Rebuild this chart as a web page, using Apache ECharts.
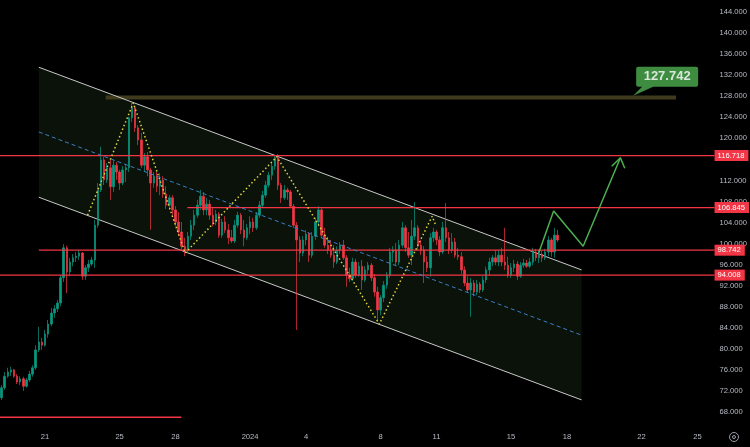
<!DOCTYPE html>
<html><head><meta charset="utf-8">
<script src="https://cdn.jsdelivr.net/npm/echarts/dist/echarts.min.js"></script>
<style>html,body{margin:0;padding:0;background:#000;}#c{width:750px;height:447px;}</style>
</head><body><div id="c"></div>
<script>
// ---- categories (4h bars) and tick labels ----
const startTime = '2023-12-18T16:00:00Z';
const stepHours = 4;
const categoryCount = 230;
const tickDates = ['2023-12-21','2023-12-25','2023-12-28','2024-01-01','2024-01-04','2024-01-08','2024-01-11','2024-01-15','2024-01-18','2024-01-22','2024-01-25'];
const tickLabels = ['21','25','28','2024','4','8','11','15','18','22','25'];

// ---- OHLC ----
const opens = [70.7,72.6,74.8,75.6,76.0,74.8,73.7,74.3,72.9,74.1,75.2,76.4,79.8,81.3,80.7,82.8,84.7,86.8,87.6,88.7,
93.5,99.2,94.6,96.5,97.3,97.6,98.2,93.8,95.4,96.1,96.9,103.5,110.2,115.9,112.1,114.4,110.8,114.9,113.6,111.5,
114.0,114.4,123.9,125.8,122.0,119.7,114.9,116.5,114.0,111.5,112.8,110.9,112.1,109.4,107.3,108.7,106.4,104.1,102.2,99.5,
98.8,101.4,103.5,105.4,107.3,109.0,106.4,107.5,105.4,104.1,105.6,101.6,104.1,102.6,101.1,100.5,103.5,105.4,102.6,101.1,
103.0,104.1,103.0,105.4,107.3,109.2,111.1,113.0,114.7,116.3,111.1,108.7,110.2,109.8,107.1,103.5,100.7,98.2,100.7,101.8,
97.8,101.4,104.1,106.4,101.6,99.7,98.8,97.8,96.5,98.8,99.7,97.3,94.0,93.3,96.5,94.0,95.7,93.1,95.0,95.9,
93.5,90.8,87.4,89.7,92.1,94.0,98.4,98.8,96.5,99.7,103.0,99.2,97.8,101.4,103.0,99.7,98.8,96.5,95.4,101.1,
102.2,100.7,98.4,103.0,101.1,98.8,100.3,97.8,97.5,95.0,92.5,91.2,92.5,90.8,92.3,91.2,93.1,95.0,96.5,97.3,
96.5,97.8,96.5,95.9,94.0,95.4,96.1,93.8,95.9,96.3,95.7,96.5,98.4,97.3,98.0,97.3,98.4,100.7,98.4,101.6];
const closes = [72.6,74.8,75.6,76.0,74.8,73.7,74.3,72.9,74.1,75.2,76.4,79.8,81.3,80.7,82.8,84.7,86.8,87.6,88.7,93.5,
99.2,94.6,96.5,97.3,97.6,98.2,93.8,95.4,96.1,96.9,103.5,110.2,115.9,112.1,114.4,110.8,114.9,113.6,111.5,114.0,
114.4,123.9,125.8,122.0,119.7,114.9,116.5,114.0,111.5,112.8,110.9,112.1,109.4,107.3,108.7,106.4,104.1,102.2,99.5,98.8,
101.4,103.5,105.4,107.3,109.0,106.4,107.5,105.4,104.1,105.6,101.6,104.1,102.6,101.1,100.5,103.5,105.4,102.6,101.1,103.0,
104.1,103.0,105.4,107.3,109.2,111.1,113.0,114.7,116.3,111.1,108.7,110.2,109.8,107.1,103.5,100.7,98.2,100.7,101.8,97.8,
101.4,104.1,106.4,101.6,99.7,98.8,97.8,96.5,98.8,99.7,97.3,94.0,93.3,96.5,94.0,95.7,93.1,95.0,95.9,93.5,
90.8,87.4,89.7,92.1,94.0,98.4,98.8,96.5,99.7,103.0,99.2,97.8,101.4,103.0,99.7,98.8,96.5,95.4,101.1,102.2,
100.7,98.4,103.0,101.1,98.8,100.3,97.8,97.5,95.0,92.5,91.2,92.5,90.8,92.3,91.2,93.1,95.0,96.5,97.3,96.5,
97.8,96.5,95.9,94.0,95.4,96.1,93.8,95.9,96.3,95.7,96.5,98.4,97.3,98.0,97.3,98.4,100.7,98.4,101.6,100.7];
const lows = [70.3,72.2,74.5,74.8,74.5,73.3,73.1,72.0,72.6,73.7,74.7,76.0,79.4,79.8,80.4,82.1,84.3,85.9,87.0,88.1,
92.7,90.6,93.8,95.7,96.5,96.9,93.1,93.1,94.6,95.7,95.4,103.0,109.8,111.1,111.5,108.3,109.8,112.1,110.2,111.1,
111.7,113.6,123.1,121.2,118.7,114.4,113.6,112.8,102.6,110.6,109.8,109.2,108.7,106.6,106.4,105.4,103.3,101.4,98.8,97.6,
98.2,100.7,102.6,104.9,106.4,105.4,105.4,104.5,103.3,103.5,101.1,101.1,102.0,99.9,100.1,100.1,103.0,101.8,99.5,100.7,
101.8,102.2,102.6,104.9,106.8,108.7,110.6,112.1,114.0,110.2,107.7,108.3,108.3,106.8,103.0,83.6,96.5,97.6,99.7,96.5,
97.3,100.7,103.3,101.1,99.2,98.0,97.3,95.4,96.1,98.0,96.9,91.8,92.7,92.9,93.5,93.7,91.2,92.7,94.2,92.9,
89.9,85.1,86.4,88.9,91.4,93.5,96.5,95.9,95.9,99.2,98.4,97.3,95.9,100.7,98.8,97.8,92.5,94.6,93.7,100.3,
99.7,97.6,98.0,100.3,98.0,98.2,97.3,96.9,94.2,91.9,90.6,86.1,90.0,90.2,90.6,90.8,92.5,94.0,95.7,95.9,
95.7,95.7,95.0,93.5,93.5,94.6,93.1,93.5,95.4,95.4,95.4,95.9,96.7,96.3,96.5,96.9,97.6,97.5,97.3,100.3];
const highs = [73.1,75.6,76.4,76.6,76.2,75.2,74.8,74.7,74.5,75.8,76.9,80.7,84.2,82.1,83.6,85.5,87.8,88.3,89.3,94.0,
99.9,99.6,97.3,98.0,98.4,98.8,98.4,95.9,96.9,97.5,104.5,111.5,118.4,116.5,115.3,115.9,115.9,115.5,114.0,114.7,
114.9,124.1,126.7,126.1,122.5,121.0,117.2,117.4,114.4,113.6,113.6,113.4,112.8,110.9,109.2,109.2,107.1,106.0,104.1,101.1,
102.2,104.5,106.4,108.3,110.2,109.8,108.7,108.3,106.8,106.4,106.0,104.7,105.2,103.7,102.6,104.5,106.0,105.8,104.5,103.7,
105.2,104.9,106.0,108.1,110.0,111.9,113.6,115.5,116.8,117.0,111.5,111.1,110.6,110.2,107.5,104.1,101.4,101.4,102.6,102.2,
102.2,104.9,107.1,106.8,103.0,101.3,100.7,99.7,99.5,100.3,100.7,97.8,95.4,97.3,97.1,96.5,96.9,95.7,96.5,96.3,
94.2,91.8,90.2,92.9,94.6,99.2,99.5,100.1,100.7,104.1,103.5,102.2,104.5,107.9,103.5,100.7,99.5,97.6,102.0,103.0,
102.6,101.4,104.1,107.7,102.2,102.0,101.1,99.2,98.4,95.7,93.8,93.5,93.1,93.1,92.7,93.8,95.6,97.3,97.8,98.8,
98.8,99.2,103.0,97.5,96.3,96.9,96.7,96.5,97.1,96.9,97.3,99.2,99.0,98.8,98.6,99.0,101.4,101.1,103.0,102.6];

// ---- price levels (x in bar index units) ----
const levelValues = [116.718, 106.845, 98.742, 94.008, 67.0];
const levelFrom   = [-0.5, 59.8, 12.0, -0.5, -0.5];
const levelTo     = [229.5, 229.5, 229.5, 229.5, 57.9];
const levelTagged = [true, true, true, true, false];

const targetValue = 127.742, targetFrom = 33.5, targetTo = 217.1, calloutX = 203.3, calloutTipValue = 128.1;

// ---- channel ----
const channelX = [12.0, 186.7];
const channelUpper = [133.5, 95.0];
const channelMid = [121.2, 82.6];
const channelLower = [108.8, 70.3];

// ---- harmonic zigzag ----
const zigzagX = [27.7, 42.4, 59.1, 88.6, 121.6, 138.6, 139.6];
const zigzagY = [105.4, 126.7, 98.2, 116.5, 84.7, 105.2, 103.7];

// ---- projected path ----
const projX = [172.9, 177.7, 187.2, 199.2];
const projY = [98.2, 106.2, 99.5, 116.3];
const arrowX = [196.4, 199.2, 200.6];
const arrowY = [114.7, 116.3, 114.3];

// ---- build ----
const categories = [];
for (let i = 0; i < categoryCount; i++) {
  const d = new Date(Date.parse(startTime) + i * stepHours * 3600000);
  categories.push(d.toISOString().slice(0, 13).replace('T', ' ') + ':00');
}
const tickKeys = tickDates.map(d => d + ' 00:00');
const candleData = opens.map((o, i) => [o, closes[i], lows[i], highs[i]]);
const zip = (xs, ys) => xs.map((x, i) => [x, ys[i]]);

const UP = '#089981', DOWN = '#f23645', TXT = '#b8bcc6';
const series = [];

// channel fill polygon
series.push({
  type: 'custom', xAxisIndex: 1, data: [[channelX[0], channelUpper[0]]], z: 1, silent: true, clip: false,
  renderItem: (params, api) => {
    const pts = [
      api.coord([channelX[0], channelUpper[0]]), api.coord([channelX[1], channelUpper[1]]),
      api.coord([channelX[1], channelLower[1]]), api.coord([channelX[0], channelLower[0]])
    ];
    return { type: 'polygon', shape: { points: pts }, style: { fill: 'rgba(70,130,70,0.14)' } };
  }
});
series.push({
  type: 'line', xAxisIndex: 1, data: zip(channelX, channelUpper),
  symbol: 'none', lineStyle: { color: '#c9c9c9', width: 1 }, z: 2, silent: true
});
series.push({
  type: 'line', xAxisIndex: 1, data: zip(channelX, channelLower),
  symbol: 'none', lineStyle: { color: '#c9c9c9', width: 1 }, z: 2, silent: true
});
series.push({
  type: 'line', xAxisIndex: 1, data: [[targetFrom, targetValue], [targetTo, targetValue]],
  symbol: 'none', lineStyle: { color: '#3e3a1b', width: 4 }, z: 1, silent: true
});
series.push({
  type: 'candlestick', xAxisIndex: 0, data: candleData, barWidth: 2,
  itemStyle: { color: UP, color0: DOWN, borderColor: UP, borderColor0: DOWN, borderWidth: 0.7 }, z: 3
});
levelValues.forEach((v, i) => {
  series.push({
    type: 'line', xAxisIndex: 1, data: [[levelFrom[i], v], [levelTo[i], v]], symbol: 'none', clip: false,
    lineStyle: { color: '#f23645', width: 1.3 }, z: 4, silent: true,
    endLabel: levelTagged[i] ? {
      show: true, formatter: p => p.value[1].toFixed(3), distance: 0,
      backgroundColor: '#f23645', color: '#ffffff', fontSize: 7.6, padding: [2, 4, 1, 3],
      fontFamily: 'Liberation Sans'
    } : { show: false }
  });
});
series.push({
  type: 'line', xAxisIndex: 1, data: zip(channelX, channelMid), symbol: 'none',
  lineStyle: { color: '#3a7fc2', width: 1, type: [4, 3] }, z: 4, silent: true
});
series.push({
  type: 'line', xAxisIndex: 1, data: zip(zigzagX, zigzagY), symbol: 'none',
  lineStyle: { color: '#e0d43e', width: 1.5, type: [1.5, 2.5] }, z: 5, silent: true
});
series.push({
  type: 'line', xAxisIndex: 1, data: zip(projX, projY), symbol: 'none',
  lineStyle: { color: '#4caf50', width: 1.5 }, z: 5, silent: true
});
series.push({
  type: 'line', xAxisIndex: 1, data: zip(arrowX, arrowY), symbol: 'none',
  lineStyle: { color: '#4caf50', width: 1.5 }, z: 5, silent: true
});
series.push({
  type: 'scatter', xAxisIndex: 1, data: [[calloutX, calloutTipValue]],
  symbol: 'path://M5,0 L63,0 Q65,0 65,2 L65,18 Q65,20 63,20 L20,20 L0,29 L9,20 L5,20 Q3,20 3,18 L3,2 Q3,0 5,0 Z',
  symbolSize: [65, 29], symbolOffset: [32.5, -14.5], itemStyle: { color: '#4caf50' }, z: 6, silent: true,
  label: { show: true, position: 'inside', formatter: String(targetValue), color: '#fff', fontWeight: 'bold',
           fontSize: 13, fontFamily: 'Liberation Sans', offset: [1.5, -4.5] }
});

const chart = echarts.init(document.getElementById('c'), null, { renderer: 'canvas' });
chart.setOption({
  animation: false,
  backgroundColor: '#000000',
  grid: { left: -1, top: 12, width: 717.6, height: 400, containLabel: false },
  xAxis: [
    { type: 'category', data: categories, boundaryGap: true,
      axisLine: { show: false }, axisTick: { show: false }, splitLine: { show: false },
      axisLabel: { interval: (idx, val) => tickKeys.includes(val),
                   formatter: val => tickLabels[tickKeys.indexOf(val)] || '',
                   color: TXT, fontSize: 7.6, margin: 21, fontFamily: 'Liberation Sans' } },
    { type: 'value', min: -0.5, max: 229.5, show: false }
  ],
  yAxis: { type: 'value', position: 'right', min: 68, max: 144, interval: 4,
    axisLine: { show: false }, axisTick: { show: false }, splitLine: { show: false },
    axisLabel: { formatter: v => v.toFixed(3), color: TXT, fontSize: 7.6, margin: 5, fontFamily: 'Liberation Sans' } },
  series: series,
  graphic: [
    { type: 'circle', shape: { cx: 734, cy: 437, r: 4.5 }, style: { fill: 'none', stroke: '#9a9ea8', lineWidth: 1 } },
    { type: 'circle', shape: { cx: 734, cy: 437, r: 1.5 }, style: { fill: 'none', stroke: '#9a9ea8', lineWidth: 1 } }
  ]
});
</script></body></html>
